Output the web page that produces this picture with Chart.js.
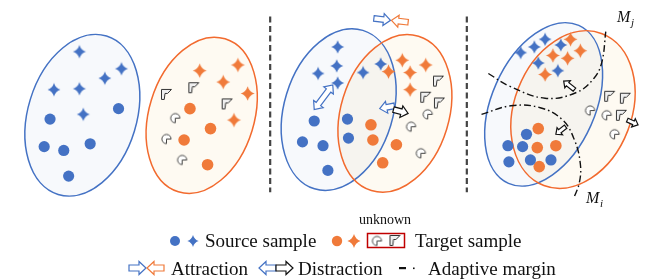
<!DOCTYPE html>
<html><head><meta charset="utf-8">
<script src="https://cdn.jsdelivr.net/npm/chart.js@4.4.1/dist/chart.umd.min.js"></script>
<style>html,body{margin:0;padding:0;background:#fff}#wrap{width:647px;height:280px;position:relative}</style>
</head><body><div id="wrap"><canvas id="c" width="647" height="280"></canvas></div>
<script>
// ---- data (diagram coordinates) ----
const sourceCircles = [[44,118],[38,147],[58,151],[85,144],[63,178],[114,107],
  [314,120],[348,118],[302,142],[323,146],[349,138],[328,172],
  [531,134],[512,146],[527,147],[513,163],[535,161],[556,161]];
const sourceStars = [[74,47],[117,65],[100,75],[48,87],[74,86],[78,113],
  [338,42],[337,62],[318,70],[338,80],[364,69],[382,60],
  [550,34],[539,42],[525,48],[566,40],[543,59],[563,67]];
const targetCircles = [[187,107],[208,128],[181,140],[205,166],
  [372,124],[374,140],[398,145],[384,164],
  [543,128],[542,148],[561,146],[544,168]];
const targetStars = [[197,67],[236,61],[221,79],[246,91],[232,119],
  [404,56],[428,61],[390,68],[412,69],[412,87],
  [576,34],[586,46],[558,51],[573,54],[550,71]];
const unknownPac = [[172,117],[163,139],[179,161],[430,113],[413,126],[423,154],[596,109],[613,114],[621,134]];
const unknownFlag = [[163,92],[191,85],[225,102],[441,78],[428,95],[442,101],[616,94],[632,96],[628,114]];
const marginJ = [[492,70],[513,83],[550,96],[582,90],[600,75],[608,58],[612,26]];
const marginI = [[485,113],[515,104],[545,106],[568,119],[580,140],[586,165],[585,185],[579,202]];
const ellipseCx = [77,199,339,396.5,548.5,578.5];
const ellipseCy = [114,114,108,112,102.5,108];
const ellipseA = [87.2,84.2,87.2,84.9,91,85.6];
const ellipseB = [55.6,53.8,55.6,55.3,52.9,60];
const ellipseTilt = [17,17,17,17,24,21];
const ellipseDomain = ['source','target','source','target','source','target'];
const separatorsX = [269,470];
// arrows: [x1,y1,x2,y2,kind]
const arrows = [[375,12,392,14,'attrS'],[410,16,393,14,'attrT'],
  [314,108,333,82,'double'],[396,104,381,107,'distS'],[395,108,410,112,'distK'],
  [580,87,569,78,'margin'],[571,126,561,134,'margin'],[634,119,645,124,'margin']];
const legendRow1 = ['Source sample','unknown','Target sample'];
const legendRow2 = ['Attraction','Distraction','Adaptive margin'];

const BLUE='#4472C4', ORANGE='#F07A3A', ORANGE_LINE='#F26A2E';
const toPts = a => a.map(p => ({x:p[0], y:p[1]}));

function starCanvas(color, r){
  const s=Math.ceil(2*r+2), c=document.createElement('canvas'); c.width=s; c.height=s;
  const g=c.getContext('2d'), m=s/2, k=r*0.22;
  g.fillStyle=color; g.beginPath();
  g.moveTo(m,m-r); g.quadraticCurveTo(m+k,m-k,m+r*0.95,m); g.quadraticCurveTo(m+k,m+k,m,m+r);
  g.quadraticCurveTo(m-k,m+k,m-r*0.95,m); g.quadraticCurveTo(m-k,m-k,m,m-r); g.closePath(); g.fill();
  return c;
}
function pacCanvas(r){
  const s=Math.ceil(2*r+3), c=document.createElement('canvas'); c.width=s; c.height=s;
  const g=c.getContext('2d'), m=s/2;
  g.strokeStyle='#444'; g.fillStyle='#fff'; g.lineWidth=1;
  g.beginPath(); g.moveTo(m,m); g.lineTo(m,m+r); g.arc(m,m,r,Math.PI/2,2*Math.PI); g.closePath(); g.fill(); g.stroke();
  return c;
}
function flagCanvas(r){
  const s=Math.ceil(2*r+3), c=document.createElement('canvas'); c.width=s; c.height=s;
  const g=c.getContext('2d'), m=s/2;
  g.strokeStyle='#333'; g.fillStyle='#f0f0f0'; g.lineWidth=1;
  g.beginPath(); g.moveTo(m-r,m-r); g.lineTo(m+r,m-r); g.lineTo(m+0.2*r,m-0.2*r); g.lineTo(m-0.3*r,m-0.2*r);
  g.lineTo(m-0.45*r,m+r); g.lineTo(m-r,m+r); g.closePath(); g.fill(); g.stroke();
  return c;
}
const blueStar=starCanvas(BLUE,6.8), orangeStar=starCanvas(ORANGE,7.3);
const pac=pacCanvas(4.6), flag=flagCanvas(5);

function blockArrow(ctx,x1,y1,x2,y2,stroke,fill,dbl,s,h,hl){
  const L=Math.hypot(x2-x1,y2-y1), a=Math.atan2(y2-y1,x2-x1);
  ctx.save(); ctx.translate(x1,y1); ctx.rotate(a);
  ctx.beginPath();
  if(dbl){ ctx.moveTo(hl,-s); } else { ctx.moveTo(0,-s); }
  ctx.lineTo(L-hl,-s); ctx.lineTo(L-hl,-h); ctx.lineTo(L,0); ctx.lineTo(L-hl,h); ctx.lineTo(L-hl,s);
  if(dbl){ ctx.lineTo(hl,s); ctx.lineTo(hl,h); ctx.lineTo(0,0); ctx.lineTo(hl,-h); } else { ctx.lineTo(0,s); }
  ctx.closePath(); ctx.fillStyle=fill; ctx.fill(); ctx.lineWidth=1.2; ctx.strokeStyle=stroke; ctx.stroke();
  ctx.restore();
}
const arrowStyle = {attrS:[BLUE,'#fff'],attrT:[ORANGE,'#fff'],double:[BLUE,'#fff'],distS:[BLUE,'#fff'],distK:['#111','#fff'],margin:['#111','#fff']};

const diagram = {
  id:'diagram',
  beforeDatasetsDraw(chart){
    const ctx=chart.ctx, xs=chart.scales.x, ys=chart.scales.y;
    const draw=(i,mode)=>{
      const cx=xs.getPixelForValue(ellipseCx[i]), cy=ys.getPixelForValue(ellipseCy[i]);
      const rx=Math.abs(xs.getPixelForValue(ellipseB[i])-xs.getPixelForValue(0));
      const ry=Math.abs(ys.getPixelForValue(ellipseA[i])-ys.getPixelForValue(0));
      ctx.beginPath(); ctx.ellipse(cx,cy,rx,ry,ellipseTilt[i]*Math.PI/180,0,2*Math.PI);
      const src=ellipseDomain[i]==='source';
      if(mode==='fill'){ ctx.fillStyle= src?'rgba(68,114,196,0.045)':'rgba(240,200,110,0.085)'; ctx.fill(); }
      else { ctx.strokeStyle= src?BLUE:ORANGE_LINE; ctx.lineWidth=1.5; ctx.stroke(); }
    };
    ctx.save();
    for(let i=0;i<ellipseCx.length;i++) draw(i,'fill');
    for(let i=0;i<ellipseCx.length;i++) draw(i,'stroke');
    ctx.strokeStyle='#444'; ctx.lineWidth=2.2; ctx.setLineDash([6,3.5]);
    separatorsX.forEach(x=>{ const px=xs.getPixelForValue(x); ctx.beginPath(); ctx.moveTo(px,ys.getPixelForValue(10)); ctx.lineTo(px,ys.getPixelForValue(195)); ctx.stroke(); });
    ctx.restore();
  },
  afterDatasetsDraw(chart){
    const ctx=chart.ctx, xs=chart.scales.x, ys=chart.scales.y;
    arrows.forEach(a=>{
      const st=arrowStyle[a[4]];
      const small=a[4]==='margin';
      blockArrow(ctx,xs.getPixelForValue(a[0]),ys.getPixelForValue(a[1]),xs.getPixelForValue(a[2]),ys.getPixelForValue(a[3]),st[0],st[1],a[4]==='double',small?2:2.8,small?4.5:6,small?5:7);
    });
    ctx.save();
    ctx.fillStyle='#111'; ctx.textBaseline='alphabetic';
    ctx.font='italic 16px "Liberation Serif", "DejaVu Serif", serif';
    ctx.fillText('M',617,22); ctx.fillText('M',586,203);
    ctx.font='italic 11px "Liberation Serif", "DejaVu Serif", serif';
    ctx.fillText('j',631,26); ctx.fillText('i',600,207);
    ctx.fillStyle=BLUE; ctx.beginPath(); ctx.arc(175,241,5,0,2*Math.PI); ctx.fill();
    ctx.drawImage(starCanvas(BLUE,6),193-7,241-7);
    ctx.fillStyle=ORANGE; ctx.beginPath(); ctx.arc(337,241,5.2,0,2*Math.PI); ctx.fill();
    ctx.drawImage(starCanvas(ORANGE,7),354-8,241-8);
    ctx.strokeStyle='#C00000'; ctx.lineWidth=1.5; ctx.strokeRect(367.5,233.5,37,14);
    ctx.drawImage(pac,377-pac.width/2,241-pac.height/2);
    ctx.drawImage(flag,395-flag.width/2,240.5-flag.height/2);
    ctx.fillStyle='#111';
    ctx.font='19px "Liberation Serif", "Times New Roman", serif';
    ctx.fillText(legendRow1[0],205,247);
    ctx.fillText(legendRow1[2],415,247);
    ctx.font='14px "Liberation Serif", "Times New Roman", serif';
    ctx.textAlign='center'; ctx.fillText(legendRow1[1],385,224); ctx.textAlign='left';
    blockArrow(ctx,129,268,146,268,BLUE,'#fff',false,3,6.5,7);
    blockArrow(ctx,164,268,147,268,ORANGE,'#fff',false,3,6.5,7);
    blockArrow(ctx,276,268,259,268,BLUE,'#fff',false,3,6.5,7);
    blockArrow(ctx,276,268,293,268,'#111','#fff',false,3,6.5,7);
    ctx.fillStyle='#111';
    ctx.fillRect(399,267,7,2.2); ctx.fillRect(413,267.5,1.6,1.6);
    ctx.font='19px "Liberation Serif", "Times New Roman", serif';
    ctx.fillText(legendRow2[0],171,275);
    ctx.fillText(legendRow2[1],298,275);
    ctx.fillText(legendRow2[2],428,275);
    ctx.restore();
  }
};

const pointSet=(data,style,radius,color)=>({type:'scatter',data:toPts(data),pointStyle:style,pointRadius:radius,pointBackgroundColor:color,pointBorderColor:color,pointBorderWidth:0,pointHoverRadius:radius});
const curve=(data)=>({type:'line',data:toPts(data),showLine:true,fill:false,pointRadius:0,borderColor:'#111',borderWidth:1.4,borderDash:[7,3,1.6,3],tension:0.4});

new Chart(document.getElementById('c'),{
  type:'scatter',
  data:{datasets:[
    pointSet(sourceCircles,'circle',5.6,BLUE),
    pointSet(targetCircles,'circle',5.8,ORANGE),
    pointSet(sourceStars,blueStar,6,BLUE),
    pointSet(targetStars,orangeStar,7,ORANGE),
    pointSet(unknownPac,pac,5,'#444'),
    pointSet(unknownFlag,flag,5,'#444'),
    curve(marginJ), curve(marginI)
  ]},
  options:{
    responsive:false, animation:false, events:[],
    layout:{padding:0},
    plugins:{legend:{display:false},tooltip:{enabled:false}},
    scales:{x:{type:'linear',min:0,max:647,display:false},y:{type:'linear',min:0,max:280,reverse:true,display:false}}
  },
  plugins:[diagram]
});
</script></body></html>
